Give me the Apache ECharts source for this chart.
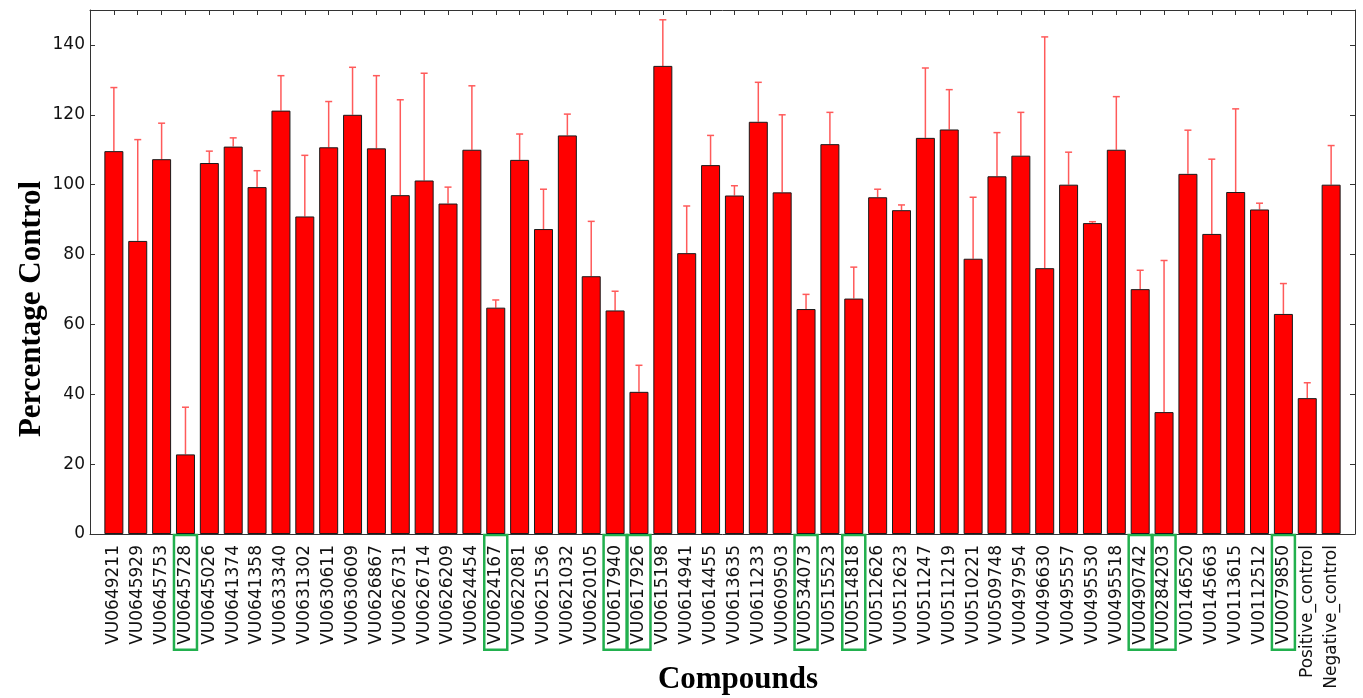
<!DOCTYPE html>
<html>
<head>
<meta charset="utf-8">
<script src="https://cdn.jsdelivr.net/npm/echarts@6/dist/echarts.min.js"></script>
<style>
html,body{margin:0;padding:0;background:#fff}
#chart{width:1363px;height:698px}
</style>
</head>
<body>
<div id="chart"></div>
<script>
// compounds along the x axis
const compounds = [
  'VU0649211','VU0645929','VU0645753','VU0645728','VU0645026','VU0641374','VU0641358',
  'VU0633340','VU0631302','VU0630611','VU0630609','VU0626867','VU0626731','VU0626714',
  'VU0626209','VU0624454','VU0624167','VU0622081','VU0621536','VU0621032','VU0620105',
  'VU0617940','VU0617926','VU0615198','VU0614941','VU0614455','VU0613635','VU0611233',
  'VU0609503','VU0534073','VU0515523','VU0514818','VU0512626','VU0512623','VU0511247',
  'VU0511219','VU0510221','VU0509748','VU0497954','VU0496630','VU0495557','VU0495530',
  'VU0495518','VU0490742','VU0284203','VU0146520','VU0145663','VU0113615','VU0112512',
  'VU0079850','Positive_control','Negative_control'
];
// mean percentage of control
const percentControl = [
  109.6, 83.9, 107.3, 22.8, 106.2, 110.9, 99.3,
  121.2, 90.9, 110.7, 120.0, 110.4, 97.0, 101.2,
  94.6, 110.0, 64.8, 107.1, 87.3, 114.1, 73.8,
  64.0, 40.7, 134.0, 80.4, 105.6, 96.9, 118.0,
  97.8, 64.4, 111.6, 67.4, 96.4, 92.7, 113.4,
  115.8, 78.8, 102.4, 108.3, 76.1, 100.0, 89.0,
  110.0, 70.1, 34.9, 103.1, 85.9, 97.9, 92.9,
  63.0, 38.9, 100.0
];
// upper error bar size
const errorUp = [
  18.2, 29.0, 10.3, 13.5, 3.4, 2.5, 4.7,
  10.0, 17.5, 13.1, 13.6, 20.8, 27.3, 30.7,
  4.7, 18.3, 2.2, 7.4, 11.4, 6.1, 15.7,
  5.5, 7.6, 13.2, 13.5, 8.5, 2.8, 11.3,
  22.2, 4.2, 9.1, 9.0, 2.3, 1.5, 20.0,
  11.4, 17.6, 12.5, 12.4, 66.2, 9.3, 0.4,
  15.2, 5.4, 43.4, 12.5, 21.4, 23.8, 1.8,
  8.7, 4.4, 11.2
];
// compounds marked with a green box
const boxed = [
  'VU0645728','VU0624167','VU0617940','VU0617926','VU0534073',
  'VU0514818','VU0490742','VU0284203','VU0079850'
];
const yMax = 150;
const yStep = 20;

const chart = echarts.init(document.getElementById('chart'));

const frame = {show: true, onZero: false, lineStyle: {color: '#333', width: 1}};
const ticks = {inside: true, length: 5, lineStyle: {color: '#333'}};
const xBase = {type: 'value', min: -1, max: compounds.length, interval: 1, splitLine: {show: false}, axisLine: frame, axisTick: ticks};
const yBase = {type: 'value', min: 0, max: yMax, interval: yStep, splitLine: {show: false}, axisLine: frame, axisTick: ticks};

const option = {
  animation: false,
  grid: {left: 90, right: 8, top: 10, bottom: 162},
  xAxis: [
    Object.assign({}, xBase, {
      position: 'bottom',
      axisLabel: {
        rotate: 90,
        margin: 1,
        formatter: v => {
          const name = compounds[v];
          if (name === undefined) return '';
          return boxed.includes(name) ? '{hl|' + name + '}' : '{n|' + name + '}';
        },
        rich: {
          n: {fontFamily: 'DejaVu Sans', fontSize: 17, color: '#111', padding: [3, 10, 3, 5], borderWidth: 2.5, borderColor: 'transparent'},
          hl: {fontFamily: 'DejaVu Sans', fontSize: 17, color: '#111', padding: [3, 10, 3, 5], borderWidth: 2.5, borderColor: '#22b04e'}
        }
      }
    }),
    Object.assign({}, xBase, {
      position: 'top',
      axisLabel: {show: false}
    })
  ],
  yAxis: [
    Object.assign({}, yBase, {
      position: 'left',
      axisLabel: {fontFamily: 'DejaVu Sans', fontSize: 17, color: '#111', margin: 5, showMaxLabel: false}
    }),
    Object.assign({}, yBase, {
      position: 'right',
      axisLabel: {show: false}
    })
  ],
  series: [
    {
      type: 'custom',
      xAxisIndex: 0,
      yAxisIndex: 0,
      z: 1,
      encode: {x: 0, y: [1, 2]},
      data: compounds.map((c, i) => [i, percentControl[i], percentControl[i] + errorUp[i]]),
      renderItem: (params, api) => {
        const base = api.coord([api.value(0), api.value(1)]);
        const top = api.coord([api.value(0), api.value(2)]);
        const st = {stroke: '#ff5a5a', lineWidth: 1.5};
        return {
          type: 'group',
          children: [
            {type: 'line', shape: {x1: base[0], y1: base[1], x2: top[0], y2: top[1]}, style: st},
            {type: 'line', shape: {x1: top[0] - 3.5, y1: top[1], x2: top[0] + 3.5, y2: top[1]}, style: st}
          ]
        };
      }
    },
    {
      type: 'bar',
      xAxisIndex: 0,
      yAxisIndex: 0,
      z: 2,
      barWidth: 19,
      itemStyle: {color: '#ff0000', borderColor: '#1a1a1a', borderWidth: 1},
      data: compounds.map((c, i) => [i, percentControl[i]])
    }
  ],
  graphic: [
    {
      type: 'text', x: 32, y: 309, rotation: Math.PI / 2,
      style: {text: 'Percentage Control', font: 'bold 31px "Liberation Serif"', fill: '#000', align: 'center', verticalAlign: 'middle'}
    },
    {
      type: 'text', x: 738, y: 680,
      style: {text: 'Compounds', font: 'bold 31px "Liberation Serif"', fill: '#000', align: 'center', verticalAlign: 'middle'}
    }
  ]
};

chart.setOption(option);
</script>
</body>
</html>
